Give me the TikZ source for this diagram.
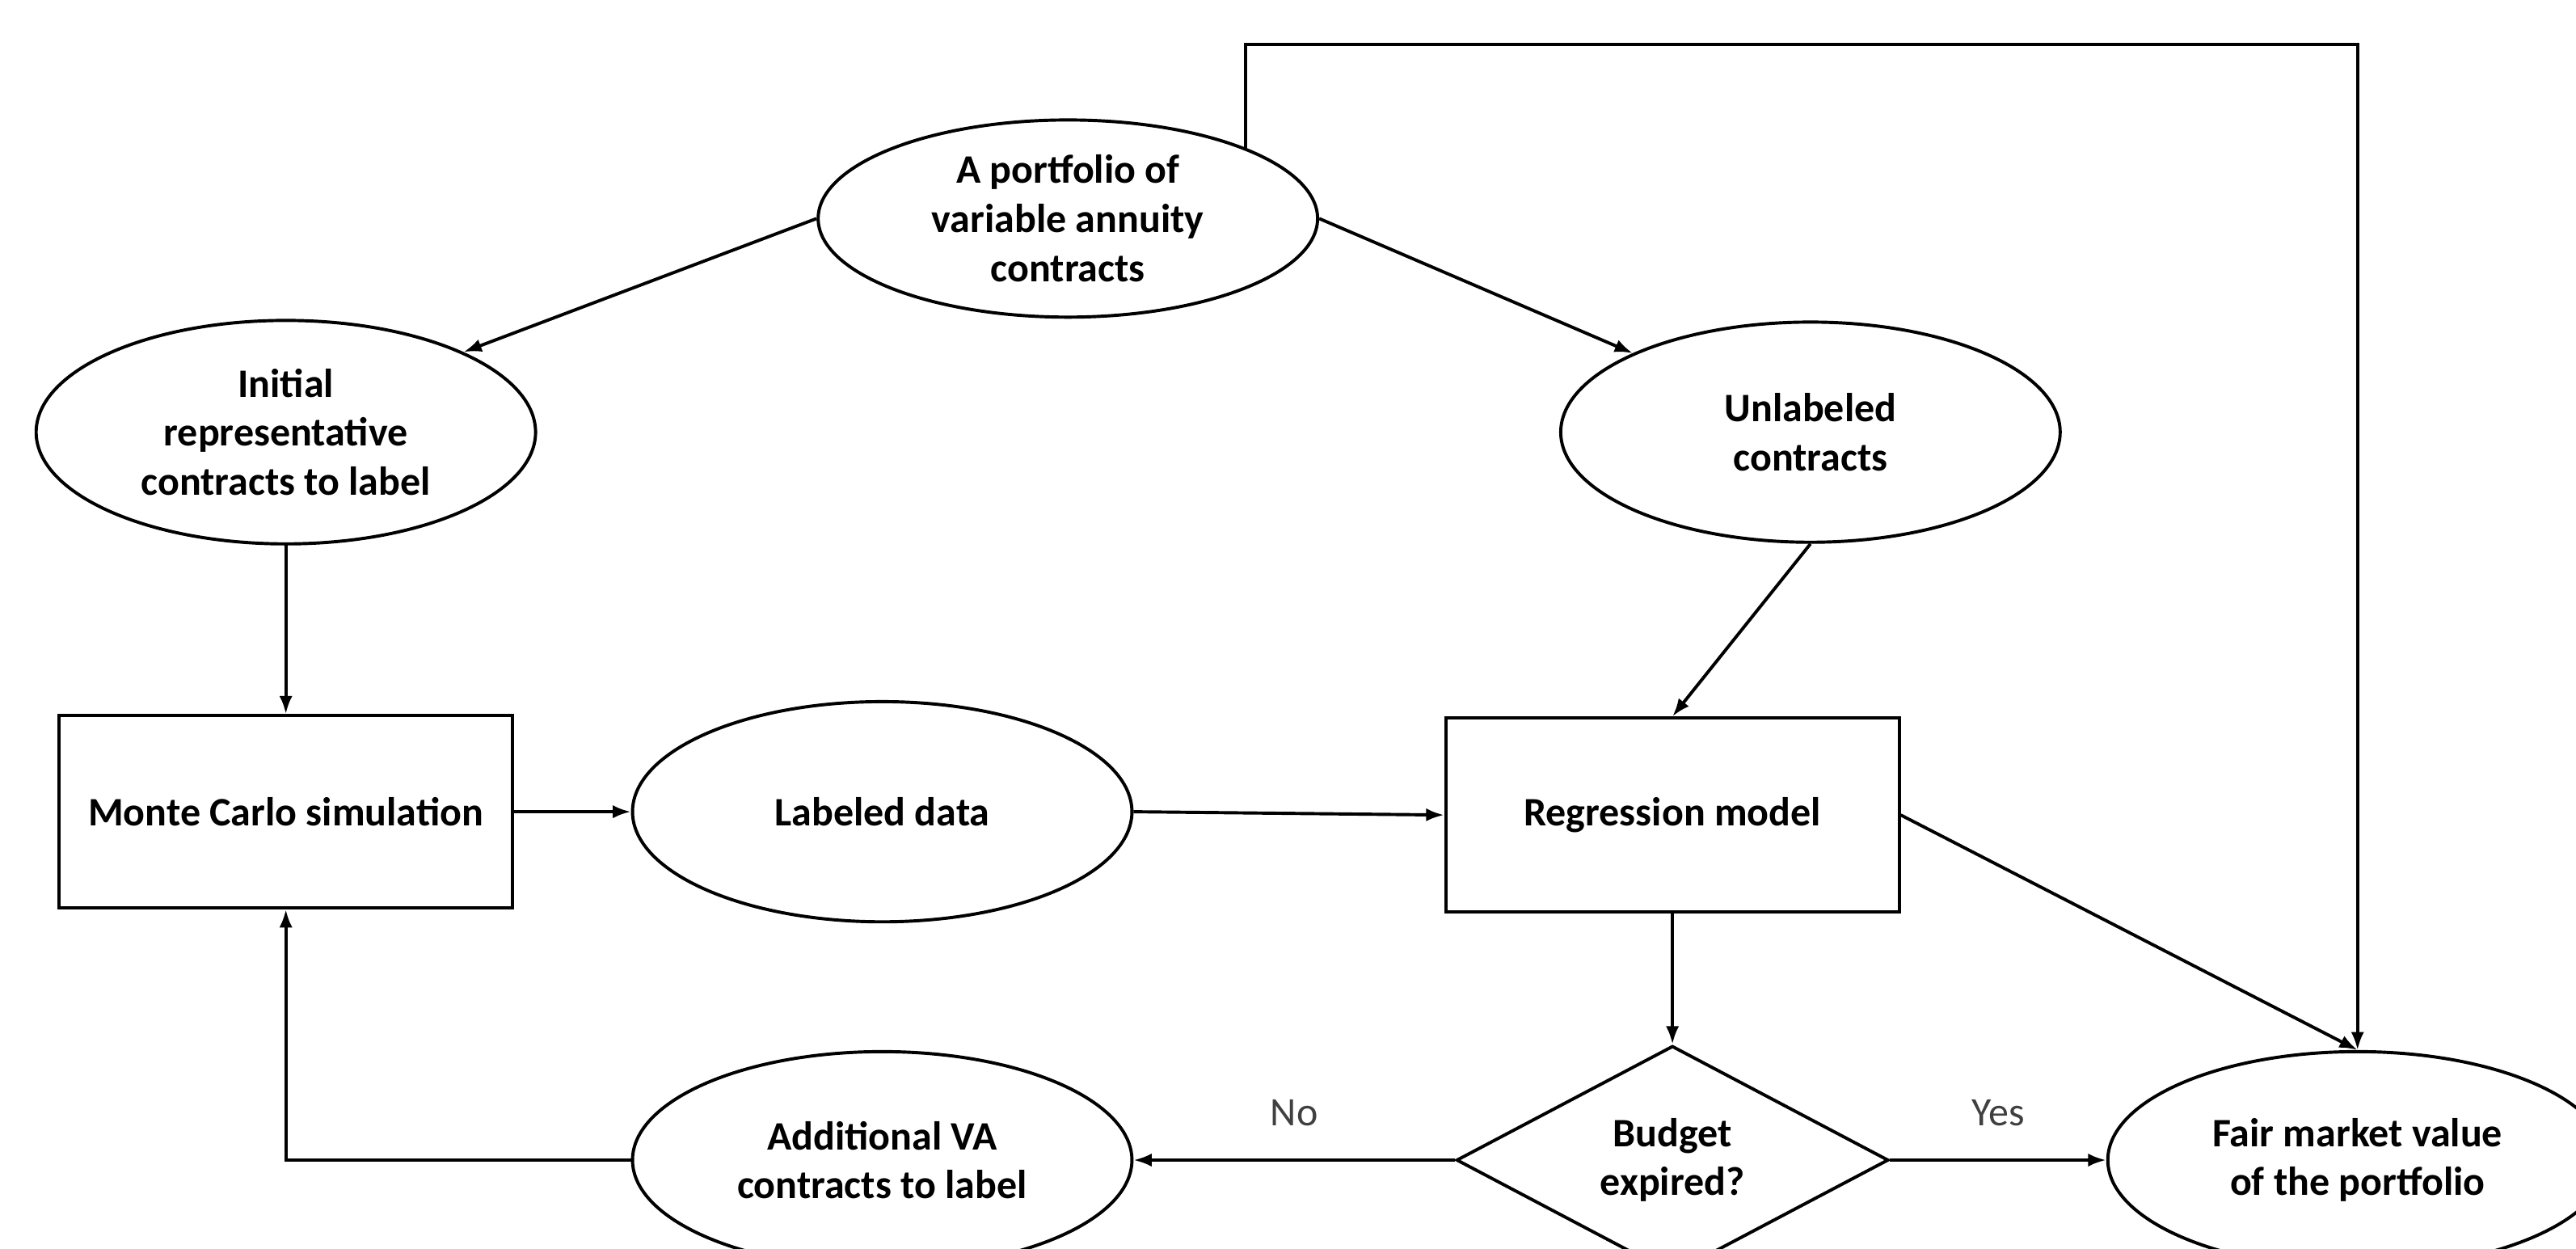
\documentclass[tikz,border=0pt]{standalone}
\usepackage{fontspec}
\setmainfont{Carlito}
\usetikzlibrary{shapes.geometric,arrows.meta}

\begin{document}
\begin{tikzpicture}[font=\fontsize{14}{17}\selectfont\bfseries,
    line width=1.1pt, >={Latex[length=2.2mm,width=1.6mm]},
    oval/.style={draw, ellipse, inner sep=0pt, align=center, minimum width=6.08cm, minimum height=2.68cm},
    block/.style={draw, rectangle, inner sep=0pt, align=center, minimum width=5.52cm, minimum height=2.34cm},
    decision/.style={draw, diamond, inner sep=0pt, align=center, minimum width=5.26cm, minimum height=2.64cm},
    answer/.style={font=\fontsize{14}{17}\selectfont\mdseries, text=black!75}]
    \clip (0,0) rectangle (31.36,-15.20);
    \node[oval, minimum height=2.40cm] (port) at (13.00,-2.66) {A portfolio of\\variable annuity\\contracts};
    \node[oval, minimum height=2.72cm] (init) at (3.48,-5.26) {Initial\\representative\\contracts to label};
    \node[oval] (unl) at (22.04,-5.26) {Unlabeled\\contracts};
    \node[block] (mc) at (3.48,-9.88) {Monte Carlo simulation};
    \node[oval] (lab) at (10.74,-9.88) {Labeled data};
    \node[block, minimum height=2.36cm] (reg) at (20.36,-9.92) {Regression model};
    \node[decision] (bud) at (20.36,-14.12) {Budget\\expired?};
    \node[oval, minimum height=2.64cm] (add) at (10.74,-14.12) {Additional VA\\contracts to label};
    \node[oval, minimum height=2.64cm] (fair) at (28.70,-14.12) {Fair market value\\of the portfolio};
    \draw[->] (port.west) -- (init.north east);
    \draw[->] (port.east) -- (unl.north west);
    \draw[->] (init.south) -- (mc.north);
    \draw[->] (unl.south) -- (reg.north);
    \draw[->] (mc.east) -- (lab.west);
    \draw[->] (lab.east) -- (reg.west);
    \draw[->] (reg.south) -- (bud.north);
    \draw[->] (reg.east) -- (fair.north);
    \draw[->] (port.north east) |- (20.36,-0.54) -| (fair.north);
    \draw[->] (bud.west) -- (add.east) node[answer, midway, above=0.28cm] {No};
    \draw[->] (bud.east) -- (fair.west) node[answer, midway, above=0.28cm] {Yes};
    \draw[->] (add.west) -| (mc.south);
\end{tikzpicture}
\end{document}
